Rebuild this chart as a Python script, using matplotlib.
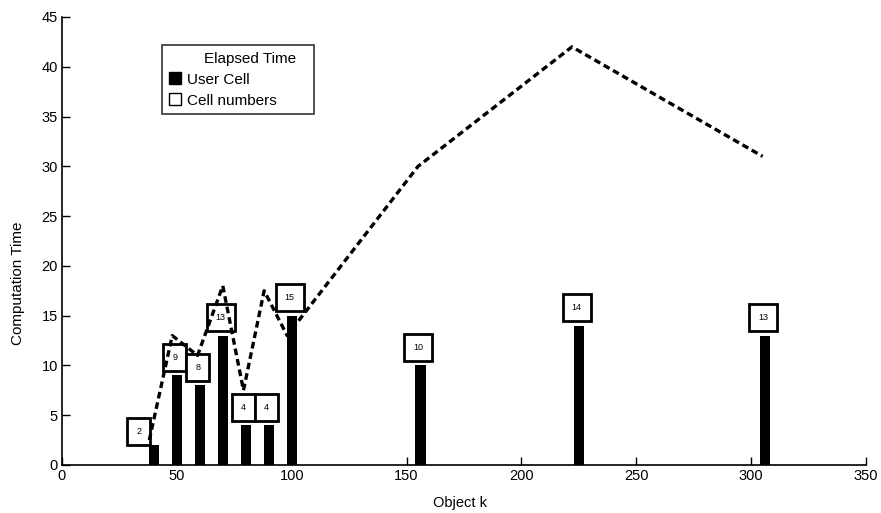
import numpy as np
import matplotlib.pyplot as plt
from matplotlib.patches import Patch
from matplotlib.lines import Line2D

plt.rcParams['font.family'] = ['Liberation Sans', 'DejaVu Sans']

# bars: user cell time per object k
obj_k = [40, 50, 60, 70, 80, 90, 100, 156, 225, 306]
user_cell = [2, 9, 8, 13, 4, 4, 15, 10, 14, 13]
cell_numbers = ["2", "9", "8", "13", "4", "4", "15", "10", "14", "13"]

# dashed line: elapsed time
elapsed_x = [38, 48, 59, 70, 79, 88, 98, 155, 222, 305]
elapsed_y = [2.5, 13, 11, 18, 7.5, 17.5, 13, 30, 42, 31]

fig = plt.figure(figsize=(8.81, 5.13), dpi=100)
ax = fig.add_axes([62/881, 1-465/513, (866-62)/881, (465-17)/513])

ax.bar(obj_k, user_cell, width=4.5, color="black", zorder=2)
ax.plot(elapsed_x, elapsed_y, color="black", lw=2.4, ls=(0, (2.0, 1.2)), zorder=5)

# label boxes sit just above each bar (first one is pushed left)
for i, (x, h, s) in enumerate(zip(obj_k, user_cell, cell_numbers)):
    off = (-11, 10) if i == 0 else (-1.5, 13)
    ax.annotate(s, (x, h), xytext=off, textcoords="offset points",
                ha="center", va="center", fontsize=6.5, zorder=4,
                bbox=dict(boxstyle="square,pad=1.0", fc="white", ec="black", lw=2))

ax.set_xlim(0, 350)
ax.set_ylim(0, 45)
ax.set_xticks(np.arange(0, 351, 50))
ax.set_yticks(np.arange(0, 46, 5))
ax.tick_params(direction="in", length=6, width=1, labelsize=10.5, pad=3)
for s in ["top", "right"]:
    ax.spines[s].set_visible(False)
for s in ["left", "bottom"]:
    ax.spines[s].set_linewidth(1.2)

ax.set_xlabel("Object k", fontsize=10.5)
ax.xaxis.set_label_coords(0.495, -0.07)
ax.set_ylabel("Computation Time", fontsize=11)
ax.yaxis.set_label_coords(-0.046, 0.406)

# "Elapsed Time" sits right-aligned without a visible handle
handles = [Line2D([], [], color="none"),
           Patch(fc="black", ec="black"),
           Patch(fc="white", ec="black")]
labels = ["    Elapsed Time", "User Cell", "Cell numbers"]
leg = ax.legend(handles, labels, loc="upper left",
                bbox_to_anchor=(100/804, 416/448, 152/804, 0.01), mode="expand",
                fontsize=11, frameon=True, fancybox=False, edgecolor="black",
                handlelength=0.8, handleheight=0.8, handletextpad=0.4,
                borderpad=0.45, labelspacing=0.45, borderaxespad=0)
leg.get_frame().set_linewidth(1.2)

fig.savefig("out.png", dpi=100)
